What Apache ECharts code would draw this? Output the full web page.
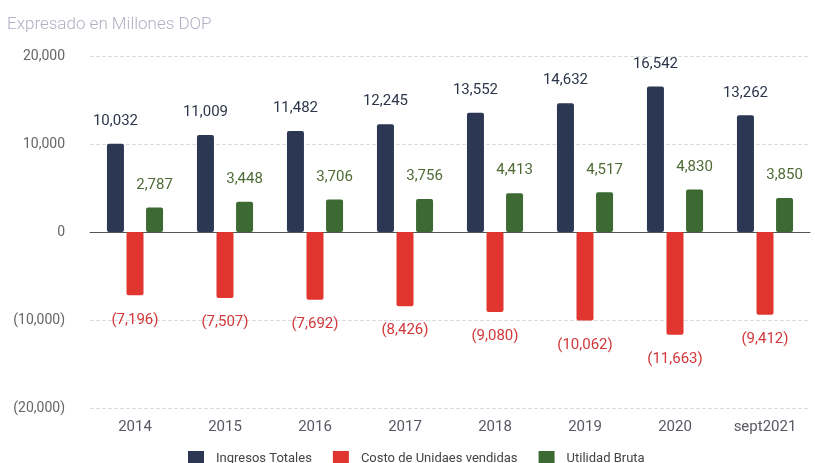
<!DOCTYPE html>
<html>
<head>
<meta charset="utf-8">
<script src="https://cdn.jsdelivr.net/npm/echarts@6/dist/echarts.min.js"></script>
<style>
html,body{margin:0;padding:0;background:#fff;}
#chart{width:815px;height:463px;}
</style>
</head>
<body>
<div id="chart"></div>
<script>
// datos (Millones DOP)
var categorias = ['2014', '2015', '2016', '2017', '2018', '2019', '2020', 'sept2021'];
var ingresosTotales = [10032, 11009, 11482, 12245, 13552, 14632, 16542, 13262];
var costoUnidades = [-7196, -7507, -7692, -8426, -9080, -10062, -11663, -9412];
var utilidadBruta = [2787, 3448, 3706, 3756, 4413, 4517, 4830, 3850];
var nombres = ['Ingresos Totales', 'Costo de Unidaes vendidas', 'Utilidad Bruta'];

//formato contable: negativos entre parentesis
function fmt(v){
  var s = Math.abs(v).toLocaleString('en-US');
  return v < 0 ? '(' + s + ')' : s;
}

var chart = echarts.init(document.getElementById('chart'));

function serie(nombre, datos, color, labelColor, pos, dist){
  return {
    name: nombre,
    type: 'bar',
    data: datos,
    barWidth: 17,
    barGap: '15%',
    itemStyle: { color: color, borderRadius: 2 },
    label: {
      show: true,
      position: pos,
      distance: dist,
      color: labelColor,
      fontSize: 15,
      fontFamily: 'Roboto',
      formatter: function(p){ return fmt(p.value); }
    }
  };
}

var option = {
  animation: false,
  textStyle: { fontFamily: 'Roboto' },
  title: {
    text: 'Expresado en Millones DOP',
    left: 2,
    top: 11,
    textStyle: { color: '#b4aec4', fontSize: 17, fontWeight: 300, fontFamily: 'Roboto' }
  },
  legend: {
    data: nombres,
    bottom: -8,
    left: 183,
    icon: 'rect',
    itemWidth: 16,
    itemHeight: 15,
    itemGap: 21,
    textStyle: { color: '#444', fontSize: 13, fontFamily: 'Roboto', padding: [0, 0, 0, 7] }
  },
  grid: { left: 90, right: 5, top: 56, bottom: 55 },
  xAxis: {
    type: 'category',
    data: categorias,
    axisTick: { show: false },
    axisLine: { onZero: true, lineStyle: { color: '#555', width: 1 } },
    axisLabel: {
      color: '#585864',
      fontSize: 15,
      margin: 12,
      fontFamily: 'Roboto'
    },
    position: 'bottom'
  },
  yAxis: {
    type: 'value',
    min: -20000,
    max: 20000,
    interval: 10000,
    axisLine: { show: false },
    axisTick: { show: false },
    axisLabel: {
      color: '#666',
      fontSize: 14,
      margin: 25,
      fontFamily: 'Roboto',
      formatter: function(v){ return fmt(v); }
    },
    splitLine: { lineStyle: { color: '#dcdcdc', type: 'dashed' } }
  },
  series: [
    serie(nombres[0], ingresosTotales, '#2b3753', '#2c3549', 'top', 15),
    serie(nombres[1], costoUnidades, '#e0362f', '#d2383a', 'bottom', 17),
    serie(nombres[2], utilidadBruta, '#3d6a33', '#4f6b35', 'top', 15)
  ]
};

chart.setOption(option);
</script>
</body>
</html>
